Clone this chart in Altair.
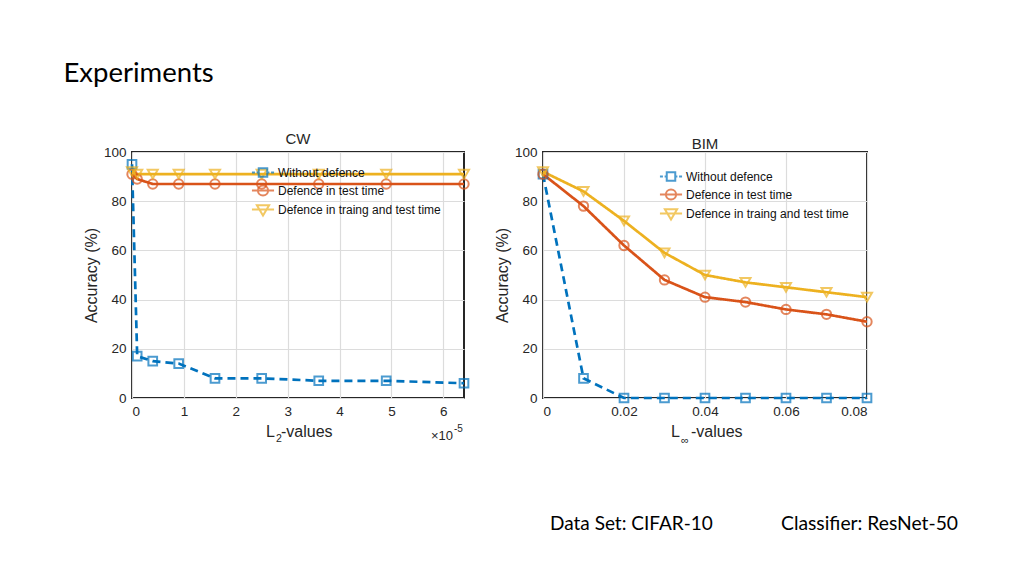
import altair as alt
import pandas as pd

# ---------------- data ----------------
series = ["Without defence", "Defence in test time", "Defence in traing and test time"]
colors = ["#0072BD", "#D95319", "#EDB120"]

cw_x = [0, 0.1, 0.4, 0.9, 1.6, 2.5, 3.6, 4.9, 6.4]          # x 10^-5
cw_without = [95, 17, 15, 14, 8, 8, 7, 7, 6]
cw_test = [91, 89, 87, 87, 87, 87, 87, 87, 87]
cw_train_test = [92, 91, 91, 91, 91, 91, 91, 91, 91]

bim_x = [0, 0.01, 0.02, 0.03, 0.04, 0.05, 0.06, 0.07, 0.08]
bim_without = [91, 8, 0, 0, 0, 0, 0, 0, 0]
bim_test = [91, 78, 62, 48, 41, 39, 36, 34, 31]
bim_train_test = [92, 84, 72, 59, 50, 47, 45, 43, 41]

cw_ticks = [0, 1, 2, 3, 4, 5, 6]
bim_ticks = [0, 0.02, 0.04, 0.06, 0.08]
y_ticks = [0, 20, 40, 60, 80, 100]

page_title = "Experiments"
panel_titles = ["CW", "BIM"]
footer = ["Data Set: CIFAR-10", "Classifier: ResNet-50"]


def to_long(xs, ys_list):
    rows = []
    for name, ys in zip(series, ys_list):
        for xv, yv in zip(xs, ys):
            rows.append({"x": xv, "acc": yv, "series": name})
    return pd.DataFrame(rows)


cw_df = to_long(cw_x, [cw_without, cw_test, cw_train_test])
bim_df = to_long(bim_x, [bim_without, bim_test, bim_train_test])

# ---------------- style ----------------
PF = "Liberation Sans"
SF = "Lato"
TXT = "#262626"

color_scale = alt.Scale(domain=series, range=colors)
shape_scale = alt.Scale(domain=series, range=["square", "circle", "triangle-down"])
size_scale = alt.Scale(domain=series, range=[75, 100, 130])
dash_scale = alt.Scale(domain=series, range=[[8, 5], [1, 0], [1, 0]])

# legend glyphs: short line segment with the marker in the middle (unit = 8.5px)
SQ = ("M-1.3,0H-0.95M-0.75,0H-0.5M0.5,0H0.75M0.95,0H1.3"
      "M-0.5,-0.5H0.5V0.5H-0.5Z")
CI = "M-1.3,0H1.3M0.6,0A0.6,0.6 0 1,1 -0.6,0A0.6,0.6 0 1,1 0.6,0Z"
TR = "M-1.3,0H1.3M-0.72,-0.5H0.72L0,0.72Z"
legend_shape_scale = alt.Scale(domain=series, range=[SQ, CI, TR])


def legend(lx, ly):
    return alt.Legend(
        title=None, orient="none", legendX=lx, legendY=ly,
        labelFont=PF, labelFontSize=12, labelColor="#111111", labelLimit=400,
        symbolSize=289, symbolStrokeWidth=2, labelOffset=5.5,
        rowPadding=0, padding=0, symbolFillColor="transparent",
    )


def text_layer(txt, x, y, size, font=PF, color=TXT, align="left"):
    return alt.Chart(pd.DataFrame({"t": [txt]})).mark_text(
        align=align, baseline="middle", fontSize=size, font=font, color=color,
    ).encode(x=alt.value(x), y=alt.value(y), text="t:N")


def panel(df, ticks, xdom, fmt, w, h, lx, ly, extras):
    base = alt.Chart(df)
    x = alt.X("x:Q", scale=alt.Scale(domain=xdom, nice=False, zero=False),
              axis=alt.Axis(values=ticks, format=fmt, title=None))
    y = alt.Y("acc:Q", scale=alt.Scale(domain=[0, 100], nice=False),
              axis=alt.Axis(values=y_ticks, title="Accuracy (%)"))
    lines = base.mark_line(strokeWidth=2.7).encode(
        x=x, y=y,
        color=alt.Color("series:N", scale=color_scale, legend=None),
        strokeDash=alt.StrokeDash("series:N", scale=dash_scale, legend=None),
    )
    pts = base.mark_point(filled=False, strokeWidth=2).encode(
        x=x, y=y,
        color=alt.Color("series:N", scale=color_scale, legend=None),
        shape=alt.Shape("series:N", scale=shape_scale, legend=None),
        size=alt.Size("series:N", scale=size_scale, legend=None),
    )
    # empty layer that only carries the legend (line + marker glyphs)
    leg = base.mark_point(filled=False, strokeWidth=2).encode(
        x=x, y=y,
        color=alt.Color("series:N", scale=color_scale, legend=legend(lx, ly)),
        shape=alt.Shape("series:N", scale=legend_shape_scale, legend=legend(lx, ly)),
    ).transform_filter("false")
    return alt.layer(lines, pts, leg, *extras).resolve_scale(
        shape="independent", color="independent"
    ).resolve_legend(shape="independent", color="independent").properties(
        width=w, height=h,
    )


cw = panel(
    cw_df, cw_ticks, [0, 6.4], "d", 332, 246, 121.5, 11,
    [
        text_layer(panel_titles[0], 166, -13, 15, align="center"),
        text_layer("L", 134, 280, 16),
        text_layer("2", 144, 287, 10.5),
        text_layer("-values", 149, 280, 16),
        text_layer("\u00d710", 321, 284, 13, align="right"),
        text_layer("-5", 322, 277, 10),
    ],
)

bim = panel(
    bim_df, bim_ticks, [0, 0.08], "~g", 324, 246, 118.5, 15,
    [
        text_layer(panel_titles[1], 162, -8, 15, align="center"),
        text_layer("L", 128, 280, 16),
        text_layer("\u221e", 138, 289, 11),
        text_layer("-values", 148, 280, 16),
        text_layer(footer[0], 7, 372, 19, font=SF, color="#000000"),
        text_layer(footer[1], 238, 372, 19.3, font=SF, color="#000000"),
    ],
)

chart = alt.hconcat(cw, bim, spacing=19).resolve_legend(
    color="independent", shape="independent", strokeDash="independent", size="independent"
).resolve_scale(
    color="independent", shape="independent"
).properties(
    title=alt.TitleParams(page_title, anchor="start", dx=-19, font=SF, fontSize=27.5,
                          fontWeight="normal", color="#000000", offset=44),
    padding={"left": 55, "top": 51, "right": 5, "bottom": 5},
).configure_view(
    stroke="#262626", strokeWidth=2
).configure_axis(
    labelFont=PF, labelFontSize=13.5, labelColor=TXT, labelPadding=6,
    titleFont=PF, titleFontSize=16, titleFontWeight="normal", titleColor=TXT,
    titlePadding=4, grid=True, gridColor="#dcdcdc", gridWidth=1.2,
    ticks=False, domain=False,
)

chart.save("out.html", embed_options={"renderer": "svg", "actions": False})
